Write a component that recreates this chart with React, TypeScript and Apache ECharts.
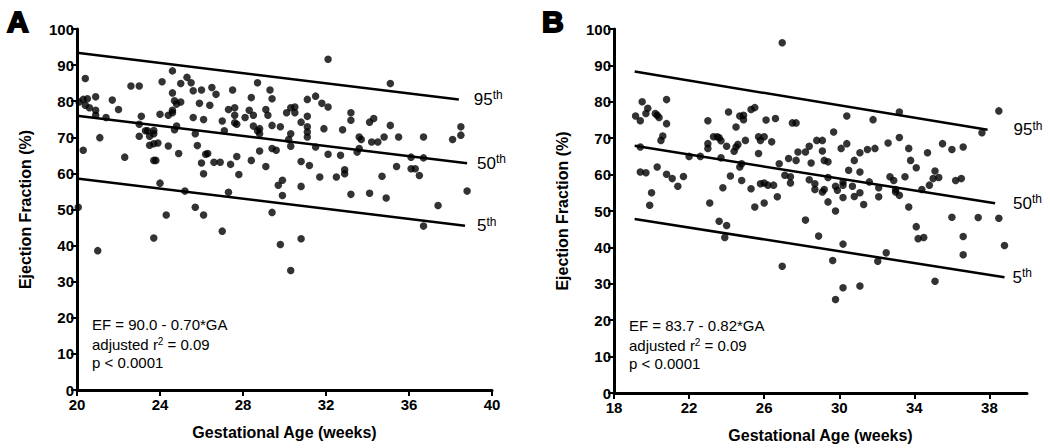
import React, { useEffect, useRef } from "react";
import * as echarts from "echarts";

// ---------- Data ----------
const panelATicksX = [20, 24, 28, 32, 36, 40];
const panelBTicksX = [18, 22, 26, 30, 34, 38];

// Panel A: [gestational age (weeks), ejection fraction (%)]
const panelAPoints: [number, number][] = [
  [20.06, 50.6], [20.1, 79.8], [20.3, 66.4], [20.4, 86.3], [20.3, 80.5], [20.5, 80.7], [20.4, 78.9], [20.6, 78.2],
  [20.9, 81.2], [20.9, 77.5], [20.9, 76.1], [21.1, 69.9], [21.4, 75.5], [21.7, 80.3], [22.0, 77.7], [22.3, 64.5],
  [22.6, 84.2], [23.0, 84.2], [23.0, 73.6], [23.0, 70.3], [23.1, 75.8], [23.3, 71.8], [23.4, 71.8], [23.5, 70.3],
  [23.5, 67.8], [23.7, 71.0], [23.7, 68.2], [23.7, 63.6], [23.8, 63.6], [23.9, 68.4], [24.0, 76.4], [24.0, 57.3],
  [23.7, 71.9], [24.1, 85.4], [24.3, 48.5], [24.4, 76.1], [24.4, 67.6], [24.6, 88.4], [24.6, 82.3], [24.6, 77.5],
  [24.6, 76.8], [24.7, 80.1], [24.7, 72.1], [24.8, 79.2], [24.8, 73.1], [24.9, 65.5], [25.0, 79.8], [25.0, 84.9],
  [25.2, 55.1], [25.3, 86.6], [25.5, 85.1], [25.6, 75.5], [25.6, 82.9], [25.7, 71.0], [25.7, 50.6], [25.8, 67.7],
  [25.9, 79.4], [26.0, 83.1], [26.0, 62.9], [26.1, 59.9], [26.1, 48.5], [26.1, 74.9], [26.2, 65.3], [26.3, 65.5],
  [26.4, 78.9], [26.5, 83.8], [26.6, 63.1], [26.7, 81.9], [26.9, 63.1], [27.0, 74.5], [27.1, 71.8], [27.3, 77.7],
  [27.3, 54.8], [27.4, 62.5], [27.5, 83.1], [27.6, 78.2], [27.6, 76.1], [27.6, 74.0], [27.7, 73.6], [27.7, 64.7],
  [27.8, 59.7], [28.1, 75.5], [28.3, 77.5], [28.4, 63.6], [28.4, 81.0], [28.5, 76.1], [28.5, 73.1], [28.7, 85.1],
  [28.7, 71.8], [28.8, 72.4], [28.8, 71.0], [28.8, 66.2], [29.1, 77.7], [29.1, 61.9], [29.2, 76.1], [29.3, 83.1],
  [29.4, 80.7], [29.4, 73.3], [29.4, 66.9], [29.4, 49.2], [29.6, 66.4], [29.7, 56.7], [29.8, 72.9], [29.9, 53.9],
  [29.9, 58.1], [30.1, 76.8], [30.2, 69.4], [30.3, 71.0], [30.3, 67.5], [30.3, 78.2], [30.5, 76.8], [30.5, 78.4],
  [30.8, 74.2], [30.8, 63.3], [30.8, 56.4], [31.1, 80.5], [31.1, 75.8], [31.1, 72.9], [31.1, 71.5], [31.1, 70.1],
  [31.2, 62.2], [31.5, 67.3], [31.5, 81.4], [31.7, 59.0], [31.8, 79.4], [31.9, 72.4], [32.1, 91.6], [32.1, 78.4],
  [32.1, 65.3], [32.5, 59.0], [32.7, 65.0], [32.8, 72.1], [32.9, 59.9], [32.9, 61.0], [33.2, 54.2], [33.2, 76.8],
  [33.2, 74.7], [33.5, 65.9], [33.6, 66.9], [33.6, 70.1], [33.7, 69.4], [34.1, 74.2], [34.1, 54.5], [34.2, 68.7],
  [34.3, 75.2], [34.5, 68.7], [34.7, 59.2], [34.8, 70.1], [34.9, 53.2], [35.1, 73.3], [35.1, 84.9], [35.4, 61.9],
  [35.5, 70.1], [36.1, 64.5], [36.1, 61.3], [36.3, 61.3], [36.5, 59.4], [36.7, 70.1], [36.7, 64.3], [36.7, 45.4],
  [37.4, 51.1], [38.1, 69.4], [38.5, 70.6], [38.5, 72.9], [38.8, 55.1], [21.0, 38.6], [23.7, 42.1], [27.0, 44.0],
  [29.8, 40.3], [30.3, 33.1], [30.8, 41.9],
];

// Panel B
const panelBPoints: [number, number][] = [
  [19.15, 76.1], [19.4, 74.8], [19.4, 67.6], [19.4, 60.7], [19.7, 60.5], [19.5, 80.0], [19.7, 76.8], [19.8, 78.2],
  [19.9, 51.6], [20.0, 55.0], [20.2, 76.8], [20.3, 62.1], [20.3, 76.3], [20.4, 75.7], [20.5, 69.4], [20.6, 70.6],
  [20.8, 80.6], [20.8, 74.0], [20.8, 60.1], [21.1, 58.9], [21.4, 56.8], [21.7, 59.5], [22.0, 65.0], [22.6, 65.0],
  [23.0, 74.8], [23.0, 68.5], [23.0, 67.2], [23.1, 52.2], [23.3, 70.4], [23.5, 70.4], [23.6, 70.1], [23.7, 69.3],
  [23.7, 64.6], [23.8, 56.4], [24.0, 67.8], [24.1, 77.2], [24.2, 59.6], [24.4, 66.4], [24.5, 67.6], [24.5, 73.1],
  [24.6, 68.3], [24.7, 76.1], [24.7, 62.1], [24.8, 63.0], [24.8, 58.4], [24.9, 75.1], [24.9, 76.3], [25.0, 69.4],
  [25.3, 56.1], [25.3, 77.9], [25.5, 51.1], [25.5, 78.4], [25.7, 70.4], [25.7, 65.8], [25.8, 69.4], [25.8, 57.5],
  [26.0, 52.2], [26.0, 70.4], [26.0, 57.7], [26.1, 75.0], [26.2, 57.1], [26.4, 69.0], [26.5, 57.1], [26.6, 75.4],
  [26.7, 53.9], [26.8, 63.0], [26.96, 96.2], [27.1, 59.8], [27.3, 64.4], [27.4, 57.7], [27.4, 59.4], [27.5, 74.2],
  [27.7, 74.2], [27.7, 63.9], [27.8, 66.2], [28.2, 66.2], [28.4, 58.6], [28.4, 67.8], [28.5, 63.2], [28.7, 57.5],
  [28.7, 55.9], [28.8, 69.4], [29.1, 69.4], [29.1, 66.5], [29.1, 55.2], [29.2, 55.9], [29.2, 63.9], [29.4, 63.5],
  [29.4, 59.2], [29.4, 52.5], [29.7, 71.7], [29.8, 56.8], [29.8, 50.0], [29.9, 55.7], [30.1, 67.2], [30.2, 57.1],
  [30.2, 58.0], [30.2, 53.7], [30.4, 76.1], [30.4, 68.5], [30.5, 61.2], [30.7, 56.8], [30.8, 63.9], [30.8, 54.0],
  [31.1, 66.0], [31.1, 60.7], [31.1, 55.0], [31.3, 51.8], [31.5, 66.9], [31.6, 58.0], [31.8, 75.1], [31.9, 67.2],
  [32.1, 53.9], [32.1, 56.4], [32.6, 68.7], [32.7, 59.4], [32.9, 58.4], [33.0, 55.2], [33.0, 55.9], [33.2, 70.2],
  [33.2, 77.2], [33.2, 54.3], [33.5, 59.4], [33.7, 51.1], [33.7, 67.2], [33.8, 63.9], [34.1, 61.9], [34.4, 55.9],
  [34.7, 66.0], [34.8, 57.1], [35.0, 58.9], [35.1, 61.0], [35.3, 59.2], [35.5, 68.5], [36.0, 66.9], [36.2, 58.4],
  [36.5, 58.9], [36.6, 67.6], [37.6, 71.5], [38.5, 77.5], [23.6, 47.2], [24.0, 46.0], [23.9, 42.7], [28.2, 47.5],
  [28.9, 43.1], [30.2, 40.9], [26.96, 34.8], [29.65, 36.4], [29.8, 25.7], [30.2, 28.9], [31.1, 29.4], [32.05, 36.2],
  [32.5, 38.5], [34.1, 45.7], [34.2, 42.4], [34.5, 42.7], [35.1, 30.7], [36.6, 43.0], [36.6, 38.0], [38.8, 40.5],
  [36.0, 48.3], [37.4, 48.2], [38.5, 48.0],
];

// Percentile lines: [start, end] as [GA, EF]
const panelAP95: [number, number][] = [[20, 93.4], [38.4, 80.5]];
const panelAP50: [number, number][] = [[20, 76.0], [38.8, 62.8]];
const panelAP5: [number, number][] = [[20, 58.6], [38.7, 45.5]];
const panelBP95: [number, number][] = [[19.1, 88.3], [37.9, 72.3]];
const panelBP50: [number, number][] = [[19.1, 67.9], [38.3, 52.1]];
const panelBP5: [number, number][] = [[19.1, 47.8], [38.8, 31.8]];

const percentileNames = ["95", "50", "5"];
const panelAStats = ["EF = 90.0 - 0.70*GA", "adjusted r{s|2} = 0.09", "p < 0.0001"];
const panelBStats = ["EF = 83.7 - 0.82*GA", "adjusted r{s|2} = 0.09", "p < 0.0001"];

const FONT = "'Liberation Sans', Arial, Helvetica, sans-serif";

function makeXAxis(gridIndex: number, min: number, max: number, ticks: number[]) {
  return {
    type: "value",
    gridIndex,
    min,
    max,
    interval: 4,
    name: "Gestational Age (weeks)",
    nameLocation: "middle",
    nameGap: 34,
    nameTextStyle: { color: "#000", fontWeight: "bold", fontSize: 16, fontFamily: FONT },
    axisLine: { show: true, onZero: false, lineStyle: { color: "#000", width: 3 } },
    axisTick: { show: true, length: 6, customValues: ticks, lineStyle: { color: "#000", width: 2 } },
    axisLabel: { color: "#000", fontWeight: "bold", fontSize: 15, fontFamily: FONT, margin: 7, customValues: ticks },
    splitLine: { show: false },
  };
}

function makeYAxis(gridIndex: number) {
  return {
    type: "value",
    gridIndex,
    min: 0,
    max: 100,
    interval: 10,
    name: "Ejection Fraction (%)",
    nameLocation: "middle",
    nameGap: 44,
    nameTextStyle: { color: "#000", fontWeight: "bold", fontSize: 16, fontFamily: FONT },
    axisLine: { show: true, onZero: false, lineStyle: { color: "#000", width: 3 } },
    axisTick: { show: true, length: 6, lineStyle: { color: "#000", width: 2 } },
    axisLabel: { color: "#000", fontWeight: "bold", fontSize: 15, fontFamily: FONT, margin: 3 },
    splitLine: { show: false },
  };
}

function lineSeries(idx: number, pts: [number, number][], name: string, gap: number) {
  return {
    type: "line",
    xAxisIndex: idx,
    yAxisIndex: idx,
    symbol: "none",
    silent: true,
    lineStyle: { color: "#000", width: 2.5 },
    endLabel: {
      show: true,
      distance: gap,
      formatter: `{n|${name}}{s|th}`,
      rich: {
        n: { fontSize: 17, fontFamily: FONT, color: "#000", lineHeight: 20 },
        s: { fontSize: 12, fontFamily: FONT, color: "#000", verticalAlign: "top", lineHeight: 20 },
      },
    },
    data: pts,
  };
}

function statsText(left: number, top: number, lines: string[]) {
  return lines.map((t, i) => ({
    type: "text",
    left,
    top: top + i * 19,
    style: {
      text: t,
      fill: "#000",
      font: `15px ${FONT}`,
      rich: {
        s: { fontSize: 10, fontFamily: FONT, fill: "#000", verticalAlign: "top", padding: [0, 0, 6, 0] },
      },
    },
  }));
}

export default function App() {
  const ref = useRef<HTMLDivElement>(null);
  useEffect(() => {
    document.body.style.margin = "0";
    const chart = echarts.init(ref.current!, undefined, { renderer: "svg" });
    const option: any = {
      animation: false,
      backgroundColor: "#fff",
      grid: [
        { left: 77, top: 29, width: 415, height: 361 },
        { left: 614, top: 29, width: 413, height: 364 },
      ],
      xAxis: [makeXAxis(0, 20, 40, panelATicksX), makeXAxis(1, 18, 40, panelBTicksX)],
      yAxis: [makeYAxis(0), makeYAxis(1)],
      series: [
        {
          type: "scatter",
          xAxisIndex: 0,
          yAxisIndex: 0,
          symbolSize: 7.5,
          itemStyle: { color: "#000" },
          data: panelAPoints,
        },
        {
          type: "scatter",
          xAxisIndex: 1,
          yAxisIndex: 1,
          symbolSize: 7.5,
          itemStyle: { color: "#000" },
          data: panelBPoints,
        },
        lineSeries(0, panelAP95, percentileNames[0], 15),
        lineSeries(0, panelAP50, percentileNames[1], 10),
        lineSeries(0, panelAP5, percentileNames[2], 12),
        lineSeries(1, panelBP95, percentileNames[0], 26),
        lineSeries(1, panelBP50, percentileNames[1], 18),
        lineSeries(1, panelBP5, percentileNames[2], 8),
      ],
      graphic: [
        {
          type: "text",
          left: 6,
          top: 5,
          style: { text: "A", fill: "#000", font: `bold 30px ${FONT}`, stroke: "#000", lineWidth: 2 },
        },
        {
          type: "text",
          left: 541,
          top: 5,
          style: { text: "B", fill: "#000", font: `bold 30px ${FONT}`, stroke: "#000", lineWidth: 2 },
        },
        ...statsText(92, 317, panelAStats),
        ...statsText(629, 318, panelBStats),
      ],
    };
    chart.setOption(option);
    return () => chart.dispose();
  }, []);
  return <div ref={ref} style={{ width: 1050, height: 448 }} />;
}
